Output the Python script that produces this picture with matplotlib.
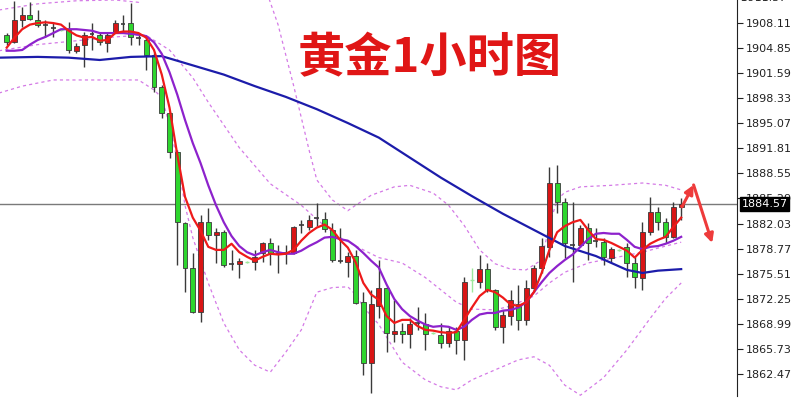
import matplotlib
matplotlib.use("Agg")
import matplotlib.pyplot as plt
import numpy as np
from matplotlib.transforms import blended_transform_factory

plt.rcParams['font.family'] = ['DejaVu Sans']

# --- velas de 1 hora (abertura, maxima, minima, fechamento) ---
opens = [1906.5, 1905.6, 1908.5, 1909.1, 1908.5, 1907.8, 1907.6, 1907.2, 1907.2, 1904.5,
         1905.2, 1906.8, 1906.5, 1905.5, 1906.8, 1908.1, 1908.1, 1906.2, 1905.9, 1904.0,
         1899.8, 1896.4, 1891.3, 1882.1, 1876.3, 1870.5, 1882.2, 1880.5, 1880.9, 1876.9,
         1876.8, 1877.0, 1877.0, 1878.2, 1879.5, 1878.2, 1878.3, 1878.2, 1881.7, 1881.6,
         1882.6, 1882.6, 1881.2, 1877.3, 1877.0, 1877.8, 1871.8, 1863.9, 1871.3, 1873.7,
         1867.7, 1868.1, 1867.6, 1869.0, 1869.0, 1867.8, 1867.5, 1866.5, 1868.0, 1866.9,
         1874.7, 1874.4, 1876.1, 1873.4, 1868.6, 1870.0, 1871.5, 1869.5, 1873.7, 1876.3,
         1879.0, 1887.3, 1884.8, 1879.3, 1879.2, 1881.5, 1879.8, 1879.6, 1877.6, 1878.6,
         1879.0, 1876.9, 1875.0, 1880.9, 1883.5, 1882.2, 1880.3, 1884.2]
highs = [1906.8, 1911.0, 1910.2, 1910.8, 1909.8, 1908.5, 1908.1, 1907.3, 1908.2, 1905.5,
         1906.9, 1908.1, 1906.9, 1906.9, 1908.5, 1909.1, 1910.7, 1906.8, 1906.5, 1904.2,
         1900.0, 1896.5, 1891.6, 1882.2, 1878.2, 1883.1, 1884.1, 1881.5, 1881.2, 1878.6,
         1877.6, 1877.1, 1878.6, 1879.6, 1880.2, 1879.2, 1879.2, 1881.7, 1882.5, 1883.1,
         1884.7, 1883.5, 1882.1, 1881.5, 1878.3, 1878.6, 1873.1, 1873.4, 1877.3, 1873.8,
         1872.1, 1869.1, 1869.8, 1871.2, 1870.4, 1867.9, 1869.1, 1868.6, 1868.6, 1875.1,
         1876.3, 1877.9, 1876.9, 1873.5, 1870.8, 1873.4, 1874.0, 1874.7, 1876.6, 1880.2,
         1889.4, 1889.6, 1885.4, 1884.8, 1881.9, 1882.1, 1881.5, 1880.2, 1879.0, 1878.7,
         1879.5, 1877.7, 1882.2, 1885.5, 1884.2, 1882.8, 1884.8, 1885.4]
lows = [1905.3, 1905.5, 1907.6, 1908.5, 1907.6, 1906.3, 1906.3, 1907.1, 1904.2, 1904.2,
        1902.4, 1904.6, 1905.3, 1904.3, 1906.8, 1906.8, 1905.3, 1905.3, 1902.0, 1899.1,
        1895.8, 1890.6, 1876.6, 1873.1, 1870.4, 1869.2, 1879.9, 1876.9, 1876.4, 1876.0,
        1875.0, 1876.9, 1876.0, 1877.0, 1876.6, 1875.6, 1876.8, 1878.1, 1880.8, 1881.2,
        1881.7, 1880.9, 1877.0, 1876.9, 1875.1, 1871.6, 1862.3, 1860.0, 1869.8, 1865.3,
        1866.6, 1866.5, 1865.9, 1868.2, 1865.6, 1867.7, 1865.9, 1866.0, 1865.0, 1864.3,
        1873.1, 1873.7, 1873.1, 1868.2, 1866.5, 1868.8, 1868.2, 1868.8, 1873.1, 1875.6,
        1877.7, 1883.4, 1877.6, 1874.4, 1879.0, 1877.3, 1879.0, 1876.6, 1877.0, 1878.5,
        1875.1, 1873.7, 1873.4, 1880.5, 1881.2, 1879.5, 1880.2, 1882.5]
closes = [1905.6, 1908.5, 1909.1, 1908.6, 1907.8, 1907.9, 1907.5, 1907.2, 1904.6, 1905.1,
          1906.5, 1906.7, 1905.6, 1906.5, 1908.1, 1908.0, 1906.3, 1906.1, 1904.0, 1899.8,
          1896.4, 1891.3, 1882.2, 1876.3, 1870.5, 1882.2, 1880.5, 1880.9, 1876.6, 1876.8,
          1877.2, 1877.0, 1877.7, 1879.5, 1878.2, 1878.1, 1878.2, 1881.6, 1881.8, 1882.5,
          1882.7, 1881.3, 1877.3, 1877.2, 1877.8, 1871.7, 1863.9, 1871.6, 1873.7, 1867.8,
          1868.1, 1867.6, 1869.0, 1869.1, 1867.6, 1867.8, 1866.5, 1868.1, 1866.9, 1874.4,
          1874.7, 1876.1, 1873.4, 1868.6, 1870.1, 1872.1, 1869.5, 1873.7, 1876.3, 1879.1,
          1887.3, 1884.8, 1879.5, 1879.2, 1881.5, 1879.5, 1879.7, 1877.7, 1878.7, 1878.6,
          1876.9, 1875.1, 1880.9, 1883.5, 1882.2, 1880.3, 1884.2, 1884.57]
# velas quase invisiveis (desenhadas em verde claro)
faint = [7, 31, 55, 60, 79]

# medias moveis
ma_red = [1904.9, 1906.2, 1907.3, 1907.9, 1908.1, 1908.2, 1908.1, 1907.9, 1907.1, 1906.5,
          1906.2, 1906.3, 1905.8, 1905.9, 1906.8, 1907.0, 1907.0, 1906.8, 1906.2, 1904.6,
          1901.4, 1897.1, 1891.0, 1885.5, 1882.8, 1881.1, 1879.0, 1878.6, 1878.6, 1879.4,
          1878.3, 1877.7, 1877.2, 1877.7, 1878.1, 1878.0, 1878.1, 1878.6, 1879.8, 1880.8,
          1881.5, 1881.9, 1881.2, 1879.9, 1878.9, 1877.0, 1874.3, 1872.8, 1872.1, 1870.0,
          1869.1, 1869.5, 1869.5, 1868.7, 1868.2, 1868.1, 1867.9, 1867.8, 1867.9, 1869.5,
          1871.1, 1872.6, 1873.4, 1873.1, 1872.4, 1871.5, 1871.3, 1871.8, 1873.1, 1875.6,
          1878.6, 1880.9, 1881.7, 1882.2, 1882.5, 1881.2, 1880.0, 1879.9, 1879.5, 1879.0,
          1878.5, 1877.6, 1878.6, 1879.4, 1879.9, 1880.3, 1881.6, 1882.8]
ma_purple = [1904.5, 1904.5, 1904.6, 1905.3, 1905.9, 1906.3, 1906.8, 1907.3, 1907.3, 1907.3,
             1907.2, 1907.1, 1906.8, 1906.8, 1906.8, 1906.8, 1906.7, 1906.6, 1906.4, 1905.6,
             1904.1, 1901.7, 1898.8, 1895.5, 1892.5, 1889.9, 1887.0, 1884.4, 1882.2, 1880.4,
             1879.1, 1878.3, 1877.9, 1878.3, 1878.6, 1878.3, 1878.1, 1878.1, 1878.5, 1879.1,
             1879.6, 1880.2, 1880.3, 1880.0, 1879.8, 1879.1, 1878.2, 1877.2, 1876.3, 1874.1,
             1872.2, 1870.9, 1870.0, 1869.4, 1868.9, 1868.6, 1868.7, 1868.6, 1868.2, 1868.6,
             1869.5, 1870.2, 1870.4, 1870.4, 1870.7, 1870.8, 1871.1, 1871.8, 1873.1, 1874.4,
             1875.6, 1876.5, 1877.3, 1878.0, 1879.0, 1880.0, 1880.7, 1880.8, 1880.7, 1880.7,
             1879.9, 1879.0, 1878.7, 1879.0, 1879.1, 1879.4, 1879.8, 1880.3]
blue_idx = [-1, 4, 8, 12, 16, 20, 24, 28, 32, 36, 40, 44, 48, 52, 56, 60, 64, 68, 72, 76, 80, 82, 84, 87]
ma_blue = [1903.6, 1903.7, 1903.6, 1903.3, 1903.7, 1903.8, 1902.6, 1901.4, 1899.9, 1898.5,
           1896.9, 1895.1, 1893.2, 1890.6, 1888.0, 1885.6, 1883.3, 1881.2, 1879.1, 1877.8,
           1876.0, 1875.6, 1875.9, 1876.1]

# bandas de Bollinger
bb_up_idx = [-1, 4, 9, 14, 17, 19, 21, 25, 30, 33, 35, 37, 39, 40, 42, 44, 45, 47, 50, 52,
             55, 57, 59, 61, 63, 65, 67, 69, 70, 71, 72, 74, 78, 82, 85, 87]
bb_up = [1909.8, 1910.6, 1911.0, 1911.1, 1910.8, 1913.7, 1917.6, 1921.5, 1918.9, 1913.7,
         1907.9, 1900.0, 1891.6, 1887.7, 1885.1, 1883.7, 1884.4, 1885.7, 1886.8, 1887.0,
         1886.0, 1884.4, 1881.8, 1878.6, 1876.8, 1876.1, 1876.0, 1877.3, 1881.8, 1885.1,
         1886.1, 1886.8, 1887.0, 1887.3, 1887.0, 1886.4]
bb_mid_idx = [-1, 4, 9, 14, 17, 18, 21, 24, 26, 30, 34, 38, 41, 43, 46, 48, 51, 54, 56, 58,
              60, 63, 65, 68, 70, 72, 75, 79, 82, 85, 87]
bb_mid = [1904.5, 1905.3, 1905.8, 1906.3, 1906.5, 1906.5, 1904.6, 1901.0, 1897.8, 1891.9,
          1887.2, 1884.4, 1881.7, 1880.2, 1878.6, 1877.6, 1876.9, 1875.0, 1873.4, 1871.8,
          1870.9, 1870.8, 1871.3, 1872.6, 1874.3, 1875.7, 1876.9, 1877.7, 1878.3, 1879.1,
          1879.6]
bb_low_idx = [-1, 2, 6, 12, 17, 19, 20, 21, 22, 23, 24, 26, 28, 30, 32, 34, 36, 38, 40, 42,
              44, 45, 46, 48, 51, 54, 56, 58, 60, 63, 66, 68, 70, 72, 74, 77, 80, 83, 85, 87]
bb_low = [1899.0, 1899.9, 1900.7, 1900.7, 1900.7, 1899.4, 1898.4, 1894.9, 1890.3, 1884.4,
          1880.2, 1874.3, 1869.1, 1865.6, 1863.6, 1862.7, 1865.3, 1868.2, 1873.1, 1873.7,
          1873.8, 1872.8, 1871.2, 1868.9, 1864.0, 1861.7, 1860.8, 1860.4, 1861.7, 1863.0,
          1864.3, 1864.7, 1863.6, 1861.0, 1859.7, 1862.0, 1865.6, 1869.7, 1872.3, 1874.3]

y_ticks = [1862.47, 1865.73, 1868.99, 1872.25, 1875.51, 1878.77, 1882.03, 1885.29,
           1888.55, 1891.81, 1895.07, 1898.33, 1901.59, 1904.85, 1908.11]
top_tick = 1911.37
last_price = 1884.57
titulo = "黄金1小时图"
arrow_idx = [87.1, 88.6, 91.0]
arrow_px = [1884.2, 1887.05, 1879.5]

fig = plt.figure(figsize=(8, 4), dpi=100)
ax = fig.add_axes([0, 0.01, 0.92125, 0.99])
ax.set_xlim(-0.865, 94.2)
ax.set_ylim(1859.6, 1911.1)

x = np.arange(len(opens))
verde = '#2ed62e'
vermelho = '#d91515'
borda = '#3a3a3a'

# bandas tracejadas
for bx, by in [(bb_up_idx, bb_up), (bb_mid_idx, bb_mid), (bb_low_idx, bb_low)]:
    ax.plot(bx, by, color='#d47ae6', linewidth=0.9, linestyle=(0, (2.5, 2.5)), zorder=1)

# linha do ultimo preco
ax.axhline(last_price, color='#7a7a7a', linewidth=1, zorder=1.5)

# velas
for i in x:
    o, h, l, c = opens[i], highs[i], lows[i], closes[i]
    if i in faint:
        ax.vlines(i, l, h, color='#9be89b', linewidth=1, zorder=2)
        ax.hlines(c, i - 0.3, i + 0.3, color='#9be89b', linewidth=1, zorder=2)
        continue
    ax.vlines(i, l, h, color=borda, linewidth=1, zorder=2)
    if abs(c - o) < 0.15:
        ax.hlines(c, i - 0.32, i + 0.32, color=borda, linewidth=1.2, zorder=3)
    else:
        cor = vermelho if c > o else verde
        ax.bar(i, abs(c - o), bottom=min(o, c), width=0.64, color=cor,
               edgecolor=borda, linewidth=0.6, zorder=3)

# medias
ax.plot(blue_idx, ma_blue, color='#1c1caa', linewidth=1.6, zorder=4)
ax.plot(x, ma_purple, color='#8d22cc', linewidth=1.6, zorder=4)
ax.plot(x, ma_red, color='#ee1a1a', linewidth=1.6, zorder=5)

# seta vermelha
for k in range(2):
    ax.annotate('', xy=(arrow_idx[k + 1], arrow_px[k + 1]), xytext=(arrow_idx[k], arrow_px[k]),
                arrowprops=dict(arrowstyle='-|>', color='#ee3b3b', lw=2.2,
                                mutation_scale=13, shrinkA=0, shrinkB=0), zorder=6)

# eixo a direita
for s in ['left', 'top', 'bottom']:
    ax.spines[s].set_visible(False)
ax.spines['right'].set_color('#222222')
ax.set_xticks([])
ax.yaxis.tick_right()
ax.set_yticks(y_ticks)
ax.set_yticklabels([f"{v:.2f}" for v in y_ticks])
ax.tick_params(axis='y', length=4, width=0.8, pad=2, labelsize=8, colors='#222222')

trans = blended_transform_factory(ax.transAxes, ax.transData)
ax.text(1.0, top_tick, f" {top_tick:.2f}", transform=trans, fontsize=8, color='#222222',
        va='center', ha='left', clip_on=False)
ax.text(1.006, last_price, f"{last_price:.2f}", transform=trans, fontsize=8, color='white',
        va='center', ha='left', zorder=10, clip_on=False,
        bbox=dict(boxstyle='square,pad=0.15', facecolor='black', edgecolor='black'))

# titulo
ax.text(0.5834, 0.852, titulo, transform=ax.transAxes, fontsize=34, color='#e01616',
        family=['Noto Sans CJK SC', 'DejaVu Sans'], weight='bold', ha='center', va='center', zorder=7)

fig.savefig("out.png", dpi=100, facecolor='white')
